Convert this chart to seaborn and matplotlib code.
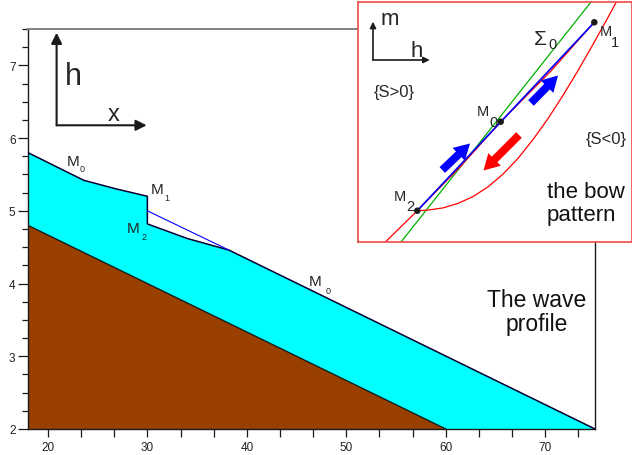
import numpy as np
import matplotlib
matplotlib.use("Agg")
import matplotlib.pyplot as plt
import seaborn as sns
from matplotlib.ticker import MultipleLocator

# ── Data: wave profile (main panel) ───────────────────────────
bed_x = [18, 60]
bed_y = [4.8, 2.0]

surf_x = [18, 23.6, 26.9, 30, 30, 34, 38.2, 75]
surf_y = [5.8, 5.42, 5.30, 5.2, 4.82, 4.62, 4.46, 2.0]

chord_x = [30, 38.2]
chord_y = [5.0, 4.46]

x_ticks = [20, 30, 40, 50, 60, 70]
y_ticks = [2, 3, 4, 5, 6, 7]

# labels in the main panel: (main letter pos, subscript pos, subscript)
m_labels = [
    ((22.55, 5.69), (23.4, 5.58), "0"),
    ((30.95, 5.30), (31.95, 5.18), "1"),
    ((28.6, 4.77), (29.67, 4.65), "2"),
    ((46.9, 4.04), (48.2, 3.91), "0"),
]

# ── Data: bow pattern (inset, schematic units) ────────────────
pts_name = ["M1", "M0", "M2"]
pts_u = [236.3, 142.7, 59.3]
pts_v = [219.7, 120.3, 31.3]

sigma_u = [43, 233]
sigma_v = [0, 240]

line_u = [27.7, 59.3, 102, 142.7, 192, 236.3]
line_v = [0.3, 31.3, 75, 120.3, 170, 219.7]

bow_u = [59, 70, 85, 100, 115, 130, 145, 160, 175, 190, 205, 220, 235, 250, 258]
bow_v = [31.3, 31.9, 34.1, 38.6, 45.4, 55.1, 67.9, 83.6, 102.4, 123.4, 146.6, 171.4, 197.6, 224.6, 239.4]

blue_arrows = [((84.3, 72), (112, 98.5)), ((173, 139), (200, 166.5))]
red_arrow = ((161, 107), (125.5, 71.5))

FONT = ["Liberation Sans", "DejaVu Sans"]
CYAN = "#00ffff"
BROWN = "#993f00"

sns.set_theme(style="ticks")
plt.rcParams["font.family"] = FONT

fig = plt.figure(figsize=(6.32, 4.56), dpi=100)
ax = fig.add_axes([28 / 632, 1 - 430 / 456, 567 / 632, 400 / 456])

# water + bed
ax.fill_between(surf_x, surf_y, 2, color=CYAN, lw=0, zorder=1)
ax.fill_between(bed_x, bed_y, 2, color=BROWN, lw=0, zorder=2)
sns.lineplot(x=bed_x, y=bed_y, color="k", lw=1, sort=False, estimator=None, ax=ax, zorder=3)
sns.lineplot(x=surf_x, y=surf_y, color="#000030", lw=1.1, sort=False, estimator=None, ax=ax, zorder=3)
sns.lineplot(x=chord_x, y=chord_y, color="#0000ff", lw=0.8, sort=False, estimator=None, ax=ax, zorder=3)

ax.set_xlim(18, 75)
ax.set_ylim(2, 7.5)
ax.xaxis.set_minor_locator(MultipleLocator(10 / 3))
ax.yaxis.set_minor_locator(MultipleLocator(0.25))
ax.set_xticks(x_ticks)
ax.set_yticks(y_ticks)
ax.tick_params(axis="x", which="both", length=6, width=0.9, color="k", labelsize=8.5, pad=3)
ax.tick_params(axis="y", which="major", length=7, width=0.9, color="k", labelsize=8.5, pad=2)
ax.tick_params(axis="y", which="minor", length=4.5, width=0.9, color="k")
for lab in ax.get_xticklabels() + ax.get_yticklabels():
    lab.set_color("#222222")
for s in ["left", "bottom", "right"]:
    ax.spines[s].set_color("k")
    ax.spines[s].set_linewidth(1.0)
ax.spines["top"].set_color("#808080")
ax.spines["top"].set_linewidth(1.4)
ax.set_xlabel("")
ax.set_ylabel("")

# h / x axes sketch
ax.annotate("", xy=(20.875, 7.449), xytext=(20.875, 6.176),
            arrowprops=dict(arrowstyle="-|>", color="k", lw=1.5, mutation_scale=16,
                            shrinkA=0, shrinkB=0))
ax.annotate("", xy=(29.93, 6.176), xytext=(20.875, 6.176),
            arrowprops=dict(arrowstyle="-|>", color="k", lw=1.5, mutation_scale=16,
                            shrinkA=0, shrinkB=0))
ax.text(22.55, 6.855, "h", fontsize=22, ha="center", va="center")
ax.text(26.57, 6.33, "x", fontsize=17, ha="center", va="center")

for (mx, my), (sx, sy), sub in m_labels:
    ax.text(mx, my, "M", fontsize=11, ha="center", va="center", zorder=5)
    ax.text(sx, sy, sub, fontsize=6.5, ha="center", va="center", zorder=5)

ax.text(69.1, 3.62, "The wave\nprofile", fontsize=16.5, ha="center", va="center",
        linespacing=1.05, color="#111111")

# ── Inset: the bow pattern ────────────────────────────────────
ins = fig.add_axes([358 / 632, 1 - 243 / 456, 274 / 632, 240 / 456])
ins.set_facecolor("white")
ins.set_xlim(0, 274)
ins.set_ylim(0, 240)
ins.set_xticks([])
ins.set_yticks([])
for s in ins.spines.values():
    s.set_color("#f04848")
    s.set_linewidth(1.2)

sns.lineplot(x=sigma_u, y=sigma_v, color="#00b000", lw=0.9, sort=False, estimator=None, ax=ins)
sns.lineplot(x=line_u, y=line_v, color="#ff0000", lw=0.9, sort=False, estimator=None, ax=ins)
sns.lineplot(x=bow_u, y=bow_v, color="#ff0000", lw=0.9, sort=False, estimator=None, ax=ins)
sns.lineplot(x=[pts_u[2], pts_u[0]], y=[pts_v[2], pts_v[0]], color="#0000ff", lw=1.2,
             sort=False, estimator=None, ax=ins)
sns.scatterplot(x=pts_u, y=pts_v, color="k", s=22, edgecolor="none", ax=ins, zorder=5)

fat = "simple,head_length=0.75,head_width=0.85,tail_width=0.38"
for (t, h) in blue_arrows:
    ins.annotate("", xy=h, xytext=t,
                 arrowprops=dict(arrowstyle=fat, color="#0000ff", lw=0, mutation_scale=15,
                                 shrinkA=0, shrinkB=0))
ins.annotate("", xy=red_arrow[1], xytext=red_arrow[0],
             arrowprops=dict(arrowstyle=fat, color="#ff0000", lw=0, mutation_scale=15,
                             shrinkA=0, shrinkB=0))

# m / h axes sketch
ins.annotate("", xy=(15, 220.3), xytext=(15, 182),
             arrowprops=dict(arrowstyle="-|>", color="k", lw=1.2, mutation_scale=9,
                             shrinkA=0, shrinkB=0))
ins.annotate("", xy=(71.7, 182), xytext=(15, 182),
             arrowprops=dict(arrowstyle="-|>", color="k", lw=1.2, mutation_scale=9,
                             shrinkA=0, shrinkB=0))
ins.text(31.5, 224, "m", fontsize=16, ha="center", va="center")
ins.text(59, 192, "h", fontsize=16, ha="center", va="center")

ins.text(36.5, 150.5, "{S>0}", fontsize=12, ha="center", va="center")
ins.text(248.3, 103.5, "{S<0}", fontsize=12, ha="center", va="center")
ins.text(182.5, 204, "Σ", fontsize=15, ha="center", va="center")
ins.text(194.5, 198, "0", fontsize=10.5, ha="center", va="center")

ins.text(125.3, 131.3, "M", fontsize=10.5, ha="center", va="center")
ins.text(135.3, 119.7, "0", fontsize=10.5, ha="center", va="center")
ins.text(247.7, 211.3, "M", fontsize=10.5, ha="center", va="center")
ins.text(257, 199.7, "1", fontsize=10.5, ha="center", va="center")
ins.text(42, 46.3, "M", fontsize=10.5, ha="center", va="center")
ins.text(52.7, 35.7, "2", fontsize=10.5, ha="center", va="center")

ins.text(188.7, 39, "the bow\npattern", fontsize=16, ha="left", va="center",
         linespacing=1.1, color="#111111")

fig.savefig("out.png", dpi=100)
